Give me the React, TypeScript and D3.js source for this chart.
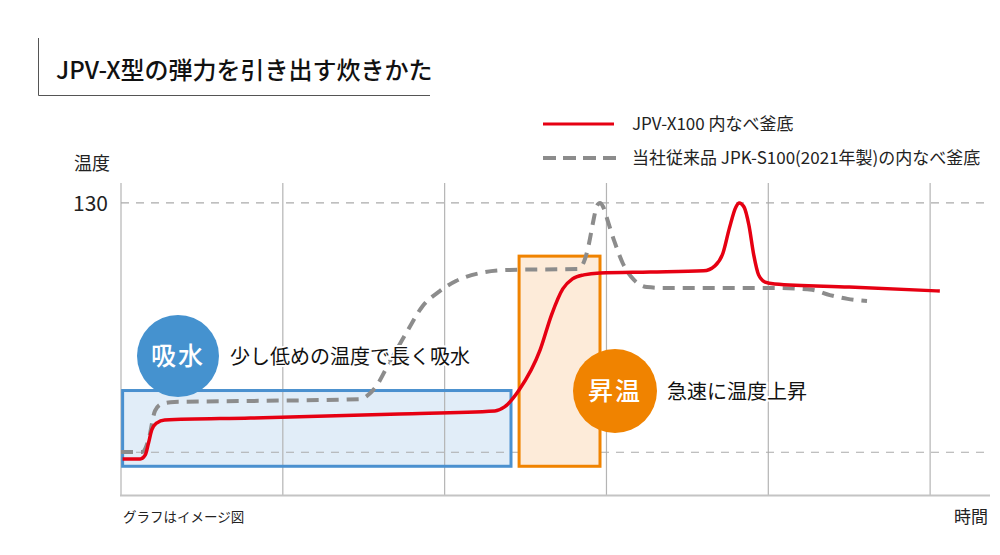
import * as React from 'react'
import { useEffect, useRef } from 'react'
import * as d3 from 'd3'

// time in grid units, temperature in arbitrary units (130 = top dashed line)
const gridTimes = [0, 1, 2, 3, 4, 5]
const refTemps = [130, 25]

const newTime = [0.01, 0.12, 0.15, 0.17, 0.19, 0.22, 0.27, 0.8, 1.72, 2.31, 2.37, 2.46, 2.59, 2.66, 2.73, 2.79, 2.86, 2.96, 3.27, 3.6, 3.67, 3.72, 3.76, 3.8, 3.82, 3.85, 3.88, 3.91, 3.94, 3.98, 4.04, 4.5, 5.06]
const newTemp = [22.2, 22.2, 23.9, 28.9, 34.4, 37.3, 38.6, 39.4, 41.1, 42.4, 44.1, 51.2, 68.1, 82.8, 93.8, 98.0, 99.7, 100.5, 100.9, 101.4, 103.5, 108.9, 119.5, 128.3, 130, 128.3, 120.7, 108.1, 99.7, 96.7, 95.9, 94.6, 92.9]

const oldTime = [0, 0.13, 0.17, 0.21, 0.25, 0.33, 0.8, 1.48, 1.52, 1.57, 1.66, 1.77, 1.86, 1.97, 2.07, 2.22, 2.4, 2.82, 2.86, 2.89, 2.92, 2.94, 2.96, 2.98, 3.01, 3.05, 3.1, 3.17, 3.25, 3.36, 4.01, 4.27, 4.38, 4.49, 4.61]
const oldTemp = [25.1, 25.1, 30.2, 42.4, 45.3, 46.2, 46.6, 47.4, 48.7, 52.1, 63.0, 76.1, 86.2, 92.9, 97.1, 100.5, 101.8, 102.2, 105.1, 112.3, 122.8, 128.7, 130, 128.3, 122.0, 113.6, 104.7, 97.6, 94.6, 94.2, 94.2, 93.4, 91.2, 89.6, 88.7]

// phase boxes: [t0, t1, tempBottom, tempTop]
const soakBox = [0.01, 2.41, 19.1, 51.0]
const heatBox = [2.46, 2.96, 19.1, 107.6]

const titleText = 'JPV-X型の弾力を引き出す炊きかた'
const legendLabels = ['JPV-X100 内なべ釜底', '当社従来品 JPK-S100(2021年製)の内なべ釜底']
const soakBadge = '吸水'
const soakLabel = '少し低めの温度で長く吸水'
const heatBadge = '昇温'
const heatLabel = '急速に温度上昇'

const RED = '#e60012'
const GRAY = '#8c8c8c'
const FONT = '"Noto Sans CJK JP", "Noto Sans", sans-serif'

export default function App() {
  const svgRef = useRef<SVGSVGElement>(null)
  const width = 1000
  const height = 555

  useEffect(() => {
    if (!svgRef.current) return
    const svg = d3.select(svgRef.current)
    svg.selectAll('*').remove()
    svg.attr('font-family', FONT)

    const x = d3.scaleLinear().domain([0, 5.37]).range([121, 990])
    const y = d3.scaleLinear().domain([7, 138.4]).range([495, 183])

    // title
    svg.append('path')
      .attr('d', 'M38.5,38 V95.5 H430')
      .attr('fill', 'none')
      .attr('stroke', '#555')
      .attr('stroke-width', 1)
    svg.append('text')
      .attr('x', 56)
      .attr('y', 79)
      .attr('font-size', 24)
      .attr('font-weight', 500)
      .attr('fill', '#111')
      .text(titleText)

    // legend
    svg.append('line')
      .attr('x1', 543).attr('x2', 614).attr('y1', 124).attr('y2', 124)
      .attr('stroke', RED).attr('stroke-width', 3)
    svg.append('line')
      .attr('x1', 543).attr('x2', 616).attr('y1', 158).attr('y2', 158)
      .attr('stroke', GRAY).attr('stroke-width', 4).attr('stroke-dasharray', '13 7')
    legendLabels.forEach((t, i) => {
      svg.append('text')
        .attr('x', 632)
        .attr('y', 130 + i * 34)
        .attr('font-size', 17)
        .attr('fill', '#222')
        .text(t)
    })

    // axis labels
    svg.append('text').attr('x', 74).attr('y', 170).attr('font-size', 18).attr('fill', '#222').text('温度')
    svg.append('text').attr('x', 73).attr('y', y(130) + 8).attr('font-size', 21).attr('fill', '#222').text('130')
    svg.append('text').attr('x', 123).attr('y', 522).attr('font-size', 13.5).attr('fill', '#222').text('グラフはイメージ図')
    svg.append('text').attr('x', 954).attr('y', 523).attr('font-size', 17).attr('fill', '#222').text('時間')

    // soak box (translucent, grid shows through)
    svg.append('rect')
      .attr('x', x(soakBox[0])).attr('y', y(soakBox[3]))
      .attr('width', x(soakBox[1]) - x(soakBox[0]))
      .attr('height', y(soakBox[2]) - y(soakBox[3]))
      .attr('fill', '#e1edf8')

    // grid
    const grid = svg.append('g')
    grid.selectAll('line.v')
      .data(gridTimes)
      .join('line')
      .attr('class', 'v')
      .attr('x1', d => x(d)).attr('x2', d => x(d))
      .attr('y1', 183).attr('y2', 495)
      .attr('stroke', '#b4b4b4').attr('stroke-width', 1.2)
    grid.selectAll('line.h')
      .data(refTemps)
      .join('line')
      .attr('class', 'h')
      .attr('x1', x(0)).attr('x2', 990)
      .attr('y1', d => y(d)).attr('y2', d => y(d))
      .attr('stroke', '#aaa').attr('stroke-width', 1.2).attr('stroke-dasharray', '8 7')
    grid.append('line')
      .attr('x1', x(0) - 1).attr('x2', 990).attr('y1', 495.5).attr('y2', 495.5)
      .attr('stroke', '#c4c4c4').attr('stroke-width', 2)

    svg.append('rect')
      .attr('x', x(soakBox[0])).attr('y', y(soakBox[3]))
      .attr('width', x(soakBox[1]) - x(soakBox[0]))
      .attr('height', y(soakBox[2]) - y(soakBox[3]))
      .attr('fill', 'none').attr('stroke', '#4a90cf').attr('stroke-width', 3)

    svg.append('rect')
      .attr('x', x(heatBox[0])).attr('y', y(heatBox[3]))
      .attr('width', x(heatBox[1]) - x(heatBox[0]))
      .attr('height', y(heatBox[2]) - y(heatBox[3]))
      .attr('fill', '#fdebd9').attr('stroke', '#f08300').attr('stroke-width', 3)

    // curves
    const line = d3.line<[number, number]>()
      .x(d => x(d[0]))
      .y(d => y(d[1]))
      .curve(d3.curveMonotoneX)

    svg.append('path')
      .attr('d', line(oldTime.map((t, i) => [t, oldTemp[i]]) as [number, number][]))
      .attr('fill', 'none')
      .attr('stroke', GRAY)
      .attr('stroke-width', 4)
      .attr('stroke-dasharray', '12 8')

    svg.append('path')
      .attr('d', line(newTime.map((t, i) => [t, newTemp[i]]) as [number, number][]))
      .attr('fill', 'none')
      .attr('stroke', RED)
      .attr('stroke-width', 3.5)
      .attr('stroke-linejoin', 'round')

    // badges + captions
    const badge = (cx: number, cy: number, r: number, color: string, label: string, caption: string, capX: number) => {
      svg.append('circle').attr('cx', cx).attr('cy', cy).attr('r', r).attr('fill', color)
      svg.append('text')
        .attr('x', cx).attr('y', cy + 9)
        .attr('text-anchor', 'middle')
        .attr('font-size', 25)
        .attr('font-weight', 500)
        .attr('letter-spacing', 2)
        .attr('fill', '#fff')
        .text(label)
      svg.append('text')
        .attr('x', capX).attr('y', cy + 8)
        .attr('font-size', 20)
        .attr('fill', '#111')
        .attr('stroke', '#fff')
        .attr('stroke-width', 4)
        .attr('paint-order', 'stroke')
        .text(caption)
    }
    badge(178, 356, 41, '#4592cf', soakBadge, soakLabel, 230)
    badge(615, 391, 42, '#f08300', heatBadge, heatLabel, 667)
  }, [])

  return (
    <svg
      ref={svgRef}
      width={width}
      height={height}
      style={{ position: 'absolute', left: 0, top: 0, background: '#fff' }}
    />
  )
}
